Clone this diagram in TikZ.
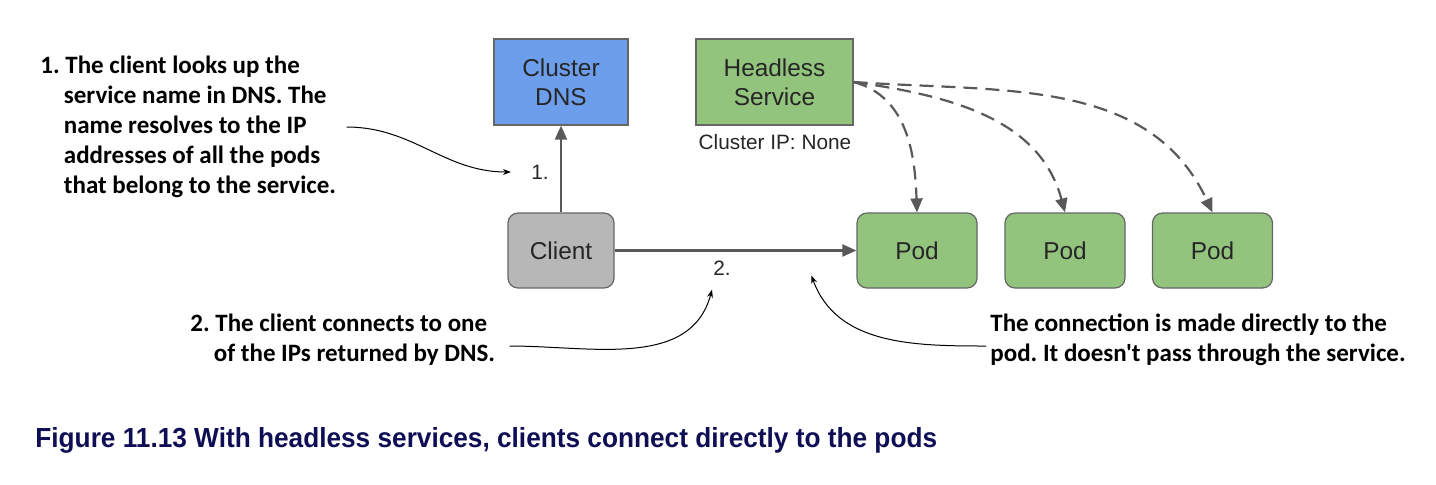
\documentclass[tikz,border=0pt]{standalone}
\usepackage{fontspec}
\setmainfont{Liberation Sans}
\newfontfamily\notefont{Carlito}
\newfontfamily\capfont[FakeStretch=0.95]{Liberation Sans}
\usetikzlibrary{arrows.meta}
\definecolor{dnsblue}{HTML}{6D9EEB}
\definecolor{podgreen}{HTML}{93C47D}
\definecolor{clientgray}{HTML}{B7B7B7}
\definecolor{edgegray}{HTML}{666666}
\definecolor{linegray}{HTML}{595959}
\definecolor{capnavy}{RGB}{14,14,85}
\tikzset{
  box/.style={draw=edgegray, line width=0.6pt, align=center, text=black!85,
    font=\fontsize{12.2}{14.5}\selectfont, minimum height=43pt},
  dnsbox/.style={box, fill=dnsblue, minimum width=67pt},
  svcbox/.style={box, fill=podgreen, minimum width=78.5pt},
  clientbox/.style={box, fill=clientgray, rounded corners=5pt, minimum width=53pt, minimum height=37.5pt},
  podbox/.style={box, fill=podgreen, rounded corners=5pt, minimum width=60pt, minimum height=37.5pt},
  small/.style={font=\fontsize{10.4}{12}\selectfont, text=black!85},
  num/.style={font=\fontsize{10.4}{12}\selectfont, text=black!85, inner sep=1pt},
  note/.style={align=left, inner sep=1pt, font=\notefont\bfseries\fontsize{12.5}{15}\selectfont},
  caption/.style={inner sep=0pt, text=capnavy, font=\capfont\bfseries\fontsize{13.8}{16}\selectfont},
  conn/.style={draw=linegray, line width=1.1pt, -{Triangle[length=7pt,width=6pt]}},
  dashconn/.style={conn, dash pattern=on 7pt off 4pt},
  pointer/.style={draw=black, line width=0.5pt, -{Stealth[length=4pt,width=3pt]}}
}
\frenchspacing
\begin{document}
\begin{tikzpicture}[x=0.5pt,y=-0.5pt]
\useasboundingbox (0,0) rectangle (1436,484);
\node[dnsbox] (dns) at (561,82) {Cluster\\DNS};
\node[svcbox] (svc) at (774.5,82) {Headless\\Service};
\node[small] (ip) at (775,142) {Cluster IP: None};
\node[clientbox] (client) at (561,250.5) {Client};
\node[podbox] (pod1) at (917,250.5) {Pod};
\node[podbox] (pod2) at (1065,250.5) {Pod};
\node[podbox] (pod3) at (1212.5,250.5) {Pod};
\node[num] (l1) at (540,172) {1.};
\node[num] (l2) at (722,268) {2.};
\draw[conn] (client) -- (dns);
\draw[conn] (client) -- (pod1);
\draw[dashconn] (svc.east) to[out=-15,in=92] (pod1.north);
\draw[dashconn] (svc.east) to[out=-8,in=105] (pod2.north);
\draw[dashconn] (svc.east) to[out=-4,in=115] (pod3.north);
\node[note, anchor=west] (n1) at (38,127) {1. The client looks up the\\
\phantom{1.\,}service name in DNS. The\\
\phantom{1.\,}name resolves to the IP\\
\phantom{1.\,}addresses of all the pods\\
\phantom{1.\,}that belong to the service.};
\node[note, anchor=west] (n2) at (188,340) {2. The client connects to one\\
\phantom{2.\,}of the IPs returned by DNS.};
\node[note, anchor=west] (n3) at (988,340) {The connection is made directly to the\\
pod. It doesn't pass through the service.};
\draw[pointer] ([xshift=4pt]n1.east) to[out=0,in=180] ([xshift=-9pt]l1.west);
\draw[pointer] ([xshift=6pt,yshift=-3pt]n2.east) to[out=0,in=-105] ([xshift=-5pt,yshift=-6pt]l2.south);
\draw[pointer] ([xshift=-1pt,yshift=-3pt]n3.west) to[out=180,in=-70] ([xshift=-22.5pt,yshift=-12.5pt]pod1.west);
\node[caption, anchor=west] (cap) at (35,440) {Figure 11.13 With headless services, clients connect directly to the pods};
\end{tikzpicture}
\end{document}
